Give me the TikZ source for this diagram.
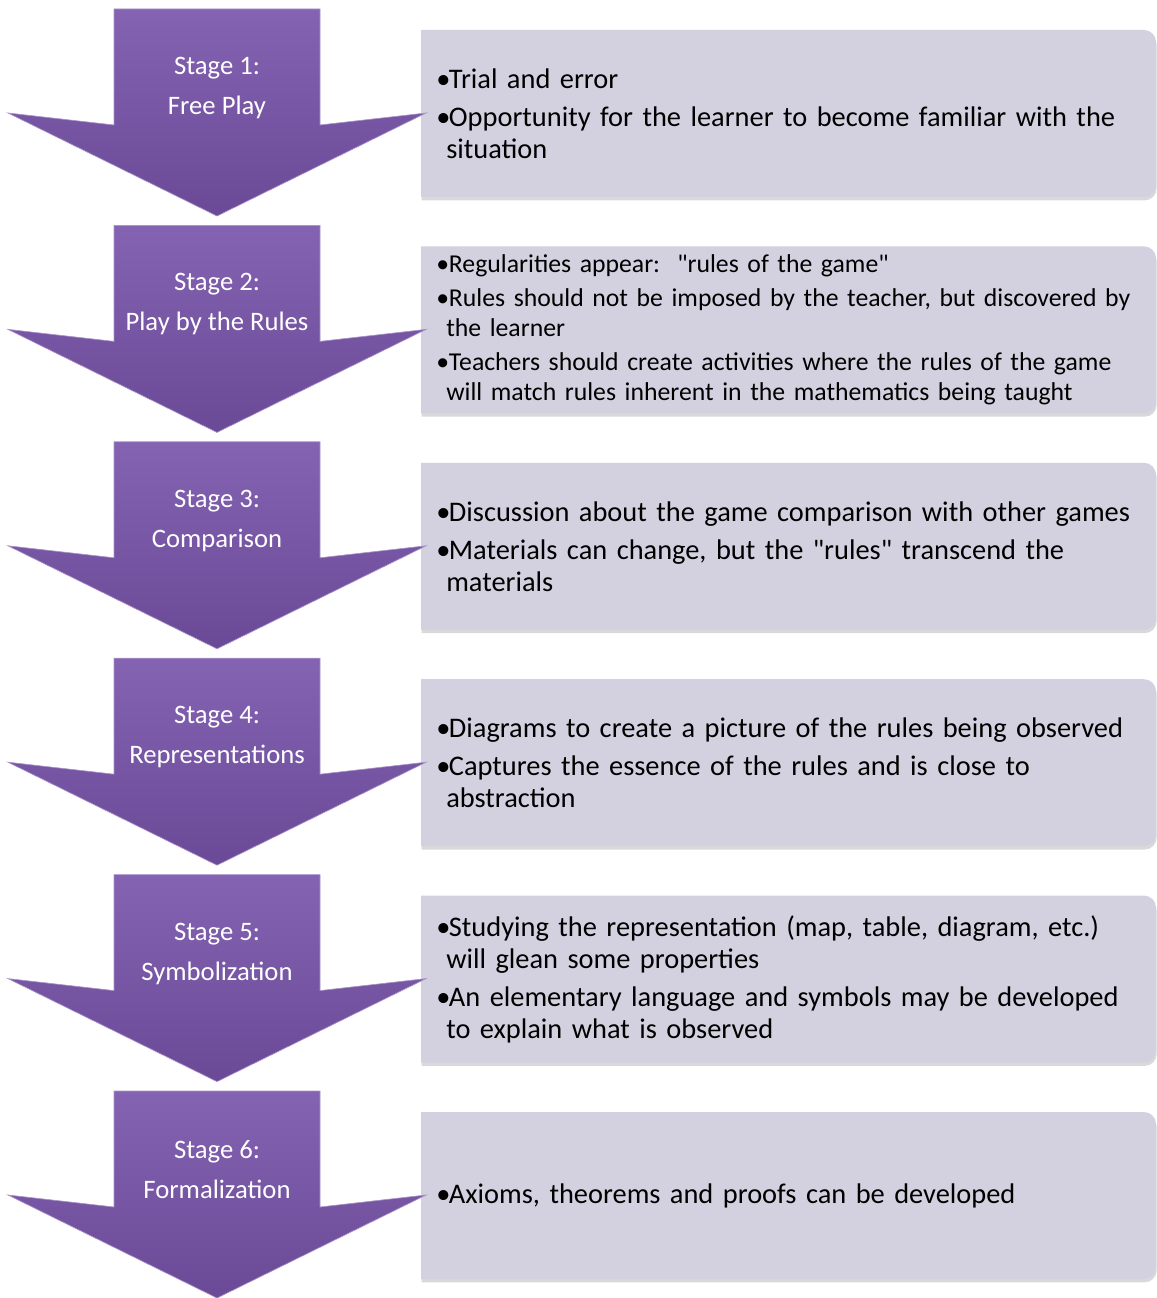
\documentclass[tikz,border=0pt]{standalone}
\usepackage{fontspec}
\setmainfont{Carlito}
\usetikzlibrary{positioning,shadows}

\definecolor{stagetop}{HTML}{8463B2}
\definecolor{stagebot}{HTML}{6A4A97}
\definecolor{boxfill}{HTML}{D3D1DF}

% one bullet point, hanging indent for the wrapped lines
\newcommand{\bitem}[1]{\hangindent=7.5pt\hangafter=1\noindent
  \makebox[9.5pt][l]{\textbullet}#1\par}

\begin{document}
\begin{tikzpicture}[
  x=0.75pt, y=-0.75pt,
  stagelab/.style={text=white, align=center, inner sep=0pt,
                   font=\fontsize{20}{30}\selectfont},
  notebox/.style={anchor=west, text width=540pt, align=left, inner sep=0pt,
                  font=\fontsize{21.3}{24}\selectfont,
                  execute at begin node={\setlength{\parskip}{4.5pt}}},
  smallnote/.style={notebox, font=\fontsize{19.3}{22.5}\selectfont,
                  execute at begin node={\setlength{\parskip}{3pt}}},
  stagefill/.style={top color=stagetop, bottom color=stagebot,
                    draw=stagetop!70!white, line width=0.5pt},
  boxpath/.style={fill=boxfill,
                  drop shadow={shadow xshift=0.5pt, shadow yshift=-2.5pt, opacity=0.3}}
]
\useasboundingbox (0,0) rectangle (1156,1298);
% ----- stage arrows and their boxes -----
\foreach \i/\lab in {1/Free Play, 2/Play by the Rules, 3/Comparison,
                     4/Representations, 5/Symbolization, 6/Formalization}{
  \pgfmathsetmacro\ya{9+216.4*(\i-1)}
  \pgfmathsetmacro\yb{30+216.4*(\i-1)}
  \path[boxpath] (421,\yb) -- (1144,\yb) arc[start angle=90, end angle=0, radius=9pt]
    -- (1156,\yb+155) arc[start angle=0, end angle=-90, radius=9pt]
    -- (421,\yb+167) -- cycle;
  \path[stagefill] (114,\ya) -- (320,\ya) -- (320,\ya+116) -- (426,\ya+104)
    -- (217,\ya+207) -- (8,\ya+104) -- (114,\ya+116) -- cycle;
  \node[stagelab] (stage\i) at (217,\ya+79) {Stage \i:\\\lab};
}
% ----- texts -----
\node[notebox] (note1) at (436,113.5)
  {\bitem{Trial and error}
   \bitem{Opportunity for the learner to become familiar with the\newline situation}};
\node[smallnote] (note2) at (436,329.9)
  {\bitem{Regularities appear:\ \ \textquotedbl rules of the game\textquotedbl}
   \bitem{Rules should not be imposed by the teacher, but discovered by\newline the learner}
   \bitem{Teachers should create activities where the rules of the game\newline will match rules inherent in the mathematics being taught}};
\node[notebox] (note3) at (436,546.3)
  {\bitem{Discussion about the game comparison with other games}
   \bitem{Materials can change, but the \textquotedbl rules\textquotedbl{} transcend the\newline materials}};
\node[notebox] (note4) at (436,762.7)
  {\bitem{Diagrams to create a picture of the rules being observed}
   \bitem{Captures the essence of the rules and is close to\newline abstraction}};
\node[notebox] (note5) at (436,979.1)
  {\bitem{Studying the representation (map, table, diagram, etc.)\newline will glean some properties}
   \bitem{An elementary language and symbols may be developed\newline to explain what is observed}};
\node[notebox] (note6) at (436,1195.5)
  {\bitem{Axioms, theorems and proofs can be developed}};
\end{tikzpicture}
\end{document}
